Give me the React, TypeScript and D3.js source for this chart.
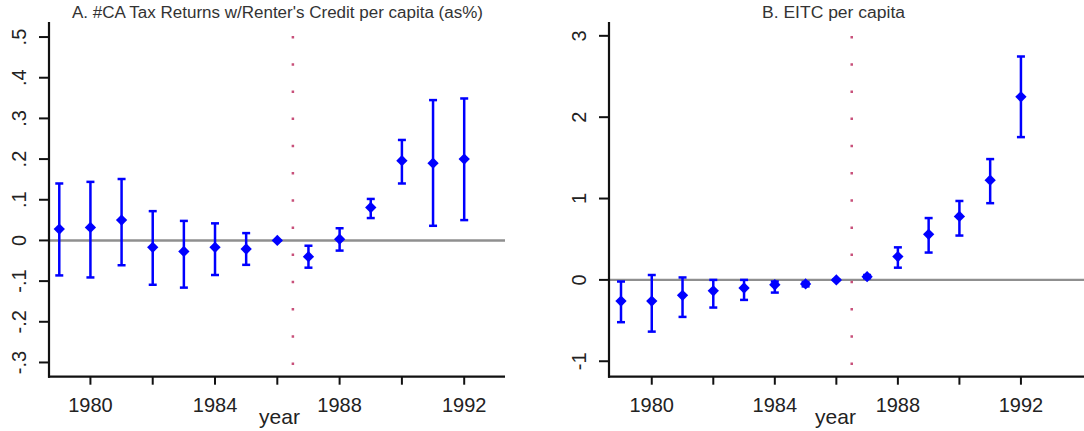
import React from 'react'
import * as d3 from 'd3'

// event-time years
const years = [1979, 1980, 1981, 1982, 1983, 1984, 1985, 1986, 1987, 1988, 1989, 1990, 1991, 1992]

// panel A: #CA tax returns w/ renter's credit per capita (as %)
const renterCoef = [0.028, 0.032, 0.05, -0.017, -0.027, -0.017, -0.021, 0, -0.04, 0.003, 0.081, 0.196, 0.19, 0.2]
const renterLo = [-0.086, -0.091, -0.061, -0.109, -0.116, -0.085, -0.06, 0, -0.067, -0.025, 0.055, 0.14, 0.036, 0.05]
const renterHi = [0.14, 0.144, 0.151, 0.072, 0.048, 0.042, 0.018, 0, -0.013, 0.03, 0.102, 0.247, 0.345, 0.349]

// panel B: EITC per capita
const eitcCoef = [-0.26, -0.26, -0.19, -0.135, -0.1, -0.06, -0.05, 0, 0.04, 0.287, 0.56, 0.78, 1.226, 2.25]
const eitcLo = [-0.52, -0.636, -0.455, -0.34, -0.246, -0.156, -0.08, 0, 0.02, 0.15, 0.336, 0.545, 0.943, 1.755]
const eitcHi = [-0.02, 0.06, 0.03, 0, 0, -0.02, -0.025, 0, 0.06, 0.4, 0.76, 0.97, 1.485, 2.746]

const renterTicks = [-0.3, -0.2, -0.1, 0, 0.1, 0.2, 0.3, 0.4, 0.5]
const eitcTicks = [-1, 0, 1, 2, 3]
const xTicks = [1980, 1982, 1984, 1986, 1988, 1990, 1992]
const xLabels = [1980, 1984, 1988, 1992]
const policyYear = 1986.5

const blue = '#0000ff'
const font = '"Liberation Sans", Arial, sans-serif'

// stata style labels: .5, -.1, 0
function stataFmt(v) {
	const r = Math.round(v * 10) / 10
	if (r === 0) return '0'
	const s = String(Math.abs(r)).replace(/^0/, '')
	return (r < 0 ? '-' : '') + s
}

function Panel({ title, titleX, titleW, xRange, xDomain, yDomain, yTicks, fmt, coef, lo, hi }) {
	const top = 22
	const bottom = 376.7
	const x = d3.scaleLinear().domain(xDomain).range(xRange)
	const y = d3.scaleLinear().domain(yDomain).range([bottom, top])
	// square turned 45deg, like stata's diamond marker
	const marker = d3.symbol().type(d3.symbolSquare).size(64)()
	const x0 = xRange[0]
	const x1 = xRange[1]

	return (
		<g>
			<text x={titleX} y={18} textAnchor="middle" fontFamily={font} fontSize={16} fill="#333"
				textLength={titleW} lengthAdjust="spacingAndGlyphs">{title}</text>

			{/* zero reference line */}
			<line x1={x0} x2={x1} y1={y(0)} y2={y(0)} stroke="#8f8f8f" strokeWidth={2.4} />

			{/* policy change */}
			<line x1={x(policyYear)} x2={x(policyYear)} y1={y(yDomain[1]) + 14} y2={bottom}
				stroke="#c8507a" strokeWidth={2.5} strokeDasharray="2.5 24.7" />

			{/* axes */}
			<line x1={x0} x2={x0} y1={top} y2={bottom + 1} stroke="#111" strokeWidth={2.2} />
			<line x1={x0 - 1} x2={x1} y1={bottom} y2={bottom} stroke="#111" strokeWidth={2.2} />
			{yTicks.map((t) => (
				<g key={t}>
					<line x1={x0 - 10} x2={x0} y1={y(t)} y2={y(t)} stroke="#111" strokeWidth={2} />
					<text transform={`translate(${x0 - 23},${y(t)}) rotate(-90)`} textAnchor="middle"
						fontFamily={font} fontSize={20} fill="#222">{fmt(t)}</text>
				</g>
			))}
			{xTicks.map((t) => (
				<line key={t} x1={x(t)} x2={x(t)} y1={bottom} y2={bottom + 8} stroke="#111" strokeWidth={2} />
			))}
			{xLabels.map((t) => (
				<text key={t} x={x(t)} y={412} textAnchor="middle" fontFamily={font} fontSize={20} fill="#222">{t}</text>
			))}
			<text x={titleX + 2} y={424} textAnchor="middle" fontFamily={font} fontSize={21} fill="#222">year</text>

			{/* estimates with 95% CI */}
			{years.map((yr, i) => (
				<g key={yr} stroke={blue} strokeWidth={2.5}>
					<line x1={x(yr)} x2={x(yr)} y1={y(lo[i])} y2={y(hi[i])} />
					<line x1={x(yr) - 4} x2={x(yr) + 4} y1={y(lo[i])} y2={y(lo[i])} />
					<line x1={x(yr) - 4} x2={x(yr) + 4} y1={y(hi[i])} y2={y(hi[i])} />
					<path d={marker} transform={`translate(${x(yr)},${y(coef[i])}) rotate(45)`} fill={blue} stroke="none" />
				</g>
			))}
		</g>
	)
}

export default function App() {
	return (
		<svg width={1084} height={431} style={{ position: 'absolute', left: 0, top: 0, background: 'white' }}>
			<Panel title="A. #CA Tax Returns w/Renter's Credit per capita (as%)" titleX={277.5} titleW={411}
				xRange={[49, 505]} xDomain={[1978.67, 1993.31]}
				yDomain={[-0.335, 0.537]} yTicks={renterTicks} fmt={stataFmt}
				coef={renterCoef} lo={renterLo} hi={renterHi} />
			<Panel title="B. EITC per capita" titleX={833.5} titleW={143}
				xRange={[609, 1084]} xDomain={[1978.61, 1994.05]}
				yDomain={[-1.19, 3.17]} yTicks={eitcTicks} fmt={(v) => String(v)}
				coef={eitcCoef} lo={eitcLo} hi={eitcHi} />
		</svg>
	)
}
